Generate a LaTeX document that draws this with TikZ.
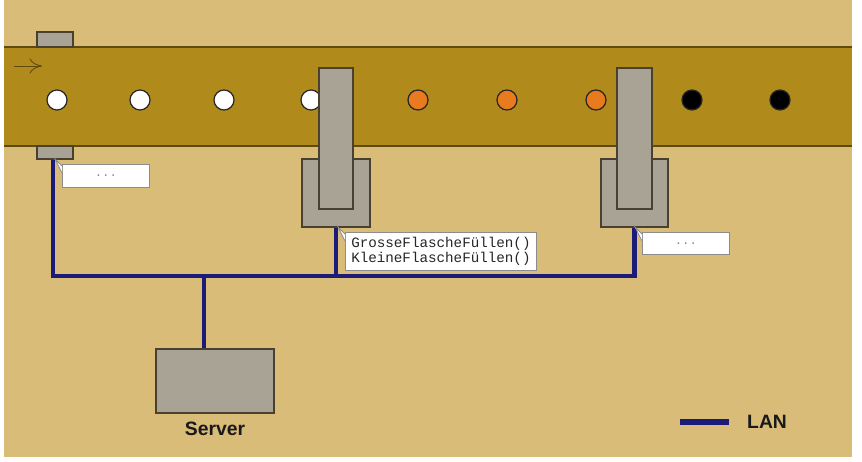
\documentclass[tikz,border=0pt]{standalone}
\usepackage{fontspec}
\newfontfamily\codefont{Liberation Mono}
\newfontfamily\labelfont{Liberation Sans}
\usepackage{tikz}
\usetikzlibrary{positioning,arrows.meta}
\definecolor{sand}{HTML}{D8BC78}
\definecolor{belt}{HTML}{B08A1A}
\definecolor{beltedge}{HTML}{5C4A12}
\definecolor{metal}{HTML}{A9A395}
\definecolor{metaledge}{HTML}{4A4030}
\definecolor{lanblue}{HTML}{1C1C78}
\definecolor{bottleorange}{HTML}{EA7A1E}
\tikzset{
  part/.style={draw=metaledge, fill=metal, line width=0.6pt, inner sep=0pt},
  bottle/.style={circle, draw=black!85, line width=0.7pt, minimum size=0.4cm, inner sep=0pt},
  lan/.style={draw=lanblue, line width=2.4pt},
  callout/.style={draw=black!45, fill=white, line width=0.5pt, inner sep=0pt},
  tag/.style={font=\labelfont\bfseries\fontsize{11}{13}\selectfont, text=black!90}
}
\begin{document}
\begin{tikzpicture}[x=0.02cm, y=-0.02cm]
	\useasboundingbox (0,0) rectangle (862,461);
	\fill[white] (0,0) rectangle (862,461);
	\fill[sand] (4,0) rectangle (852,457);
	
	% conveyor
	\fill[belt] (4,47) rectangle (852,146);
	\draw[beltedge, line width=0.6pt] (4,47) -- (852,47) (4,146) -- (852,146);
	\coordinate (dirA) at (14,66);
	\coordinate (dirB) at (42,66);
	\draw[beltedge, line width=0.5pt, -{To[length=2.5mm,width=3mm]}] (dirA) -- (dirB);
	
	\foreach \x/\c [count=\i] in {57/white,140/white,224/white,311/white,418/bottleorange,507/bottleorange,596/bottleorange,692/black,780/black}
		\node(b\i) [bottle, fill=\c] at (\x,100) {};
	
	% sensor
	\node(senT) [part, minimum width=0.72cm, minimum height=0.3cm] at (55,39.5) {};
	\node(senB) [part, minimum width=0.72cm, minimum height=0.26cm] at (55,152.5) {};
	
	% filling stations
	\node(base1) [part, minimum width=1.36cm, minimum height=1.36cm] at (336,193) {};
	\node(arm1) [part, minimum width=0.68cm, minimum height=2.82cm] at (336,138.5) {};
	\node(base2) [part, minimum width=1.34cm, minimum height=1.36cm] at (634.5,193) {};
	\node(arm2) [part, minimum width=0.7cm, minimum height=2.82cm] at (634.5,138.5) {};
	
	\node(server) [part, minimum width=2.36cm, minimum height=1.28cm] at (215,381) {};
	\node(srvlabel) [tag, below=0.05cm of server] {Server};
	
	% network
	\coordinate (bus) at (0,276);
	\draw[lan] ([xshift=-0.04cm]senB.south) |- (bus -| base2.south) -- (base2.south);
	\draw[lan] (base1.south) -- (base1.south |- bus);
	\draw[lan] ([xshift=-0.22cm]server.north) -- ([xshift=-0.22cm]server.north |- bus);
	
	% messages
	\node(msg1) [callout, anchor=north west, minimum width=1.74cm, minimum height=0.46cm] at (62,164) {\codefont\fontsize{7}{8}\selectfont\color{black!45}...};
	\node(msg2) [callout, anchor=north west, minimum width=3.82cm, minimum height=0.76cm, align=left, inner xsep=3pt,
		font=\codefont\fontsize{8.1}{8.8}\selectfont, text=black!85] at (345,232) {GrosseFlascheFüllen()\\KleineFlascheFüllen()};
	\node(msg3) [callout, anchor=north west, minimum width=1.74cm, minimum height=0.44cm] at (642,232) {\codefont\fontsize{7}{8}\selectfont\color{black!45}...};
	\foreach \m in {msg1,msg2,msg3}{
		\fill[white] ([yshift=-0.04cm]\m.north west) -- ++(-7,-7) -- ++(7,14) -- cycle;
		\draw[black!45, line width=0.5pt] ([yshift=-0.04cm]\m.north west) -- ++(-7,-7) -- ++(7,14);
	}
	
	% legend
	\node(lanlabel) [tag, anchor=west] at (741,422) {LAN};
	\coordinate (legL) at (680,422);
	\draw[lanblue, line width=2.9pt] (legL) -- ++(49,0);
\end{tikzpicture}
\end{document}
